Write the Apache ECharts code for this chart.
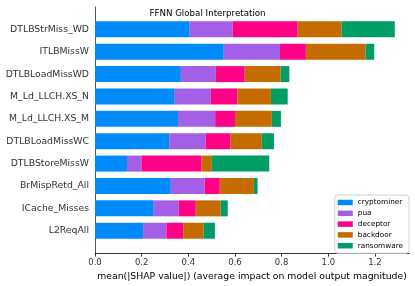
<!DOCTYPE html>
<html><head><meta charset="utf-8">
<script src="https://cdn.jsdelivr.net/npm/echarts@6/dist/echarts.min.js"></script>
<style>html,body{margin:0;padding:0;background:#fff}#c{width:415px;height:286px}</style>
</head><body><div id="c"></div>
<script>
const features = ['DTLBStrMiss_WD','ITLBMissW','DTLBLoadMissWD','M_Ld_LLCH.XS_N','M_Ld_LLCH.XS_M','DTLBLoadMissWC','DTLBStoreMissW','BrMispRetd_All','ICache_Misses','L2ReqAll'];
const classes = ['cryptominer','pua','deceptor','backdoor','ransomware'];
const cryptominer = [0.406,0.552,0.368,0.342,0.356,0.318,0.137,0.325,0.252,0.206];
const pua         = [0.184,0.241,0.150,0.155,0.159,0.156,0.062,0.145,0.107,0.100];
const deceptor    = [0.279,0.111,0.124,0.114,0.085,0.107,0.258,0.065,0.073,0.072];
const backdoor    = [0.188,0.256,0.154,0.143,0.158,0.134,0.044,0.146,0.107,0.088];
const ransomware  = [0.228,0.037,0.037,0.072,0.039,0.052,0.246,0.016,0.030,0.048];
const xTicks = ['0.0','0.2','0.4','0.6','0.8','1.0','1.2'];
const colors = ['#008bfb','#a35fe6','#ff0087','#c56c00','#009e64'];

const values = [cryptominer,pua,deceptor,backdoor,ransomware];
const cats = [''].concat(features).concat(['']);
const chart = echarts.init(document.getElementById('c'), null, {renderer:'canvas'});
const font = 'DejaVu Sans';
chart.setOption({
  animation:false,
  textStyle:{fontFamily:font},
  title:{text:'FFNN Global Interpretation',left:'center',top:4,textStyle:{fontFamily:font,fontSize:8.7,fontWeight:'normal',color:'#000'}},
  legend:{
    data:classes, orient:'vertical', right:6, top:195,
    itemWidth:15, itemHeight:5.5, itemGap:1.8,
    icon:'rect',
    textStyle:{fontFamily:font,fontSize:7.3,color:'#000',lineHeight:9},
    borderColor:'#d0d0d0', borderWidth:1, borderRadius:3, padding:[3,6,3,3],
    backgroundColor:'#fff'
  },
  grid:{left:95,right:6,top:7,bottom:31,containLabel:false},
  xAxis:{
    type:'value', min:0, max:1.346, interval:0.2,
    name:'mean(|SHAP value|) (average impact on model output magnitude)',
    nameLocation:'middle', nameGap:16,
    nameTextStyle:{fontFamily:font,fontSize:9.3,color:'#000'},
    axisLine:{show:true,lineStyle:{color:'#333',width:1}},
    axisTick:{show:true,length:3.5,lineStyle:{color:'#333'}},
    axisLabel:{fontFamily:font,fontSize:8.5,color:'#333',margin:5,showMaxLabel:false,
      formatter:(v)=>{const s=v.toFixed(1);return xTicks.indexOf(s)>=0?s:'';}},
    splitLine:{show:false}
  },
  yAxis:{
    type:'category', data:cats, inverse:true, boundaryGap:false,
    axisLine:{show:true,lineStyle:{color:'#555',width:1}},
    axisTick:{show:false},
    axisLabel:{fontFamily:font,fontSize:9.3,color:'#333',margin:6,interval:0}
  },
  series: classes.map((c,i)=>({
    name:c, type:'bar', stack:'s', barWidth:16,
    itemStyle:{color:colors[i]},
    data:[null].concat(values[i]).concat([null])
  }))
});
</script></body></html>
